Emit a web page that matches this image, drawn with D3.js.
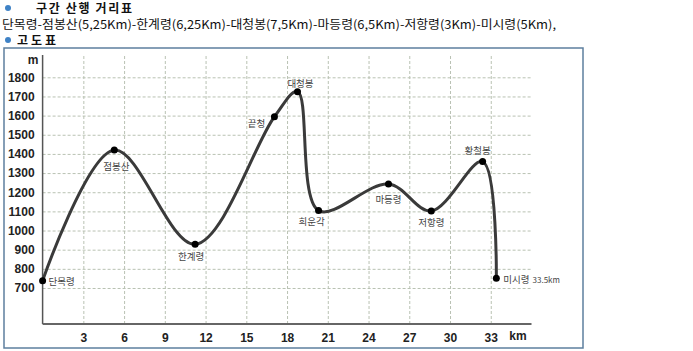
<!DOCTYPE html>
<html>
<head>
<meta charset="utf-8">
<script src="https://cdn.jsdelivr.net/npm/d3@7"></script>
<style>
  body { margin: 0; background: #fff; }
  svg { display: block; font-family: "Noto Sans CJK KR", "Noto Sans", sans-serif; }
  .grid line { stroke: #b9c2b3; stroke-dasharray: 3,2; }
  .grid path { display: none; }
  .axis text { font-family: Arial, "Liberation Sans", sans-serif; font-size: 12px; font-weight: bold; fill: #222; }
  .axis path, .axis line { display: none; }
  .place { font-size: 9.5px; fill: #444; }
</style>
</head>
<body>
<div id="chart"></div>
<script>
var places = ["단목령", "점봉산", "한계령", "끝청", "대청봉", "희운각", "마등령", "저항령", "황철봉", "미시령"];
var distKm = [0, 5.28, 11.23, 17.07, 18.77, 20.32, 25.47, 28.62, 32.4, 33.41];
var elevM = [738, 1420, 928, 1594, 1725, 1104, 1243, 1102, 1360, 751];
var xTicks = [3, 6, 9, 12, 15, 18, 21, 24, 27, 30, 33];
var yTicks = [700, 800, 900, 1000, 1100, 1200, 1300, 1400, 1500, 1600, 1700, 1800];
var routeText = "단목령-점봉산(5,25Km)-한계령(6,25Km)-대청봉(7,5Km)-마등령(6,5Km)-저항령(3Km)-미시령(5Km),";
var endNote = "33.5km";

// label placement relative to each dot
var labelPos = [
  {dx: 6, dy: 0, anchor: "start"},
  {dx: 2, dy: 16, anchor: "middle"},
  {dx: -4, dy: 12, anchor: "middle"},
  {dx: -18, dy: 6, anchor: "middle"},
  {dx: 3, dy: -9, anchor: "middle"},
  {dx: -7, dy: 10, anchor: "middle"},
  {dx: 0, dy: 15, anchor: "middle"},
  {dx: 0, dy: 11, anchor: "middle"},
  {dx: -5, dy: -12, anchor: "middle"},
  {dx: 7, dy: 1, anchor: "start"}
];

var svg = d3.select("#chart").append("svg")
    .attr("width", 693).attr("height", 351);

// header
function bullet(cx, cy) {
  svg.append("circle").attr("cx", cx).attr("cy", cy).attr("r", 3)
    .attr("fill", "#3f82c6");
}
bullet(8, 8);
svg.append("text").attr("x", 36).attr("y", 13)
  .attr("font-size", 12).attr("font-weight", "bold").attr("fill", "#111")
  .attr("textLength", 96).attr("lengthAdjust", "spacing")
  .text("구간 산행 거리표");
svg.append("text").attr("x", 2).attr("y", 29)
  .attr("font-size", 12).attr("fill", "#111")
  .attr("textLength", 554).attr("lengthAdjust", "spacingAndGlyphs")
  .text(routeText);
bullet(8, 40);
svg.append("text").attr("x", 17).attr("y", 45)
  .attr("font-size", 12).attr("font-weight", "bold").attr("fill", "#111")
  .attr("textLength", 39).attr("lengthAdjust", "spacing")
  .text("고도표");

// frame
svg.append("rect").attr("x", 4).attr("y", 48).attr("width", 579).attr("height", 300)
  .attr("fill", "none").attr("stroke", "#5d7f9e").attr("stroke-width", 1.5);

var x = d3.scaleLinear().domain([0, 36]).range([42.6, 531.5]);
var y = d3.scaleLinear().domain([512, 1800]).range([324, 77.3]);
var gridTop = 55;

svg.append("g").attr("class", "grid")
  .attr("transform", "translate(0," + y(512) + ")")
  .call(d3.axisBottom(x).tickValues(xTicks).tickSize(-(y(512) - gridTop)).tickFormat(""));
svg.append("g").attr("class", "grid")
  .attr("transform", "translate(" + x(0) + ",0)")
  .call(d3.axisLeft(y).tickValues(yTicks).tickSize(-(x(36) - x(0))).tickFormat(""));

// axis lines
svg.append("line").attr("x1", x(0)).attr("x2", x(0)).attr("y1", gridTop).attr("y2", y(512))
  .attr("stroke", "#555").attr("stroke-width", 1.5);
svg.append("line").attr("x1", x(0)).attr("x2", x(36)).attr("y1", y(512)).attr("y2", y(512))
  .attr("stroke", "#666").attr("stroke-width", 2);

svg.append("g").attr("class", "axis")
  .attr("transform", "translate(0," + (y(512) + 6) + ")")
  .call(d3.axisBottom(x).tickValues(xTicks).tickSize(0).tickFormat(d3.format("d")));
svg.append("g").attr("class", "axis")
  .attr("transform", "translate(" + (x(0) - 5) + ",0)")
  .call(d3.axisLeft(y).tickValues(yTicks).tickSize(0).tickFormat(d3.format("d")));

svg.append("text").attr("x", 518).attr("y", 340).attr("text-anchor", "middle")
  .attr("font-family", "Arial, sans-serif").attr("font-size", 12).attr("font-weight", "bold").attr("fill", "#222")
  .text("km");
svg.append("text").attr("x", 33).attr("y", 64).attr("text-anchor", "middle")
  .attr("font-family", "Arial, sans-serif").attr("font-size", 12).attr("font-weight", "bold").attr("fill", "#222")
  .text("m");

var pts = places.map(function(p, i) { return {name: p, km: distKm[i], m: elevM[i]}; });

var line = d3.line()
  .x(function(d) { return x(d.km); })
  .y(function(d) { return y(d.m); })
  .curve(d3.curveCatmullRom.alpha(0.5));

svg.append("path").datum(pts)
  .attr("d", line)
  .attr("fill", "none").attr("stroke", "#3a3a3a").attr("stroke-width", 3)
  .attr("stroke-linejoin", "round");

svg.selectAll(".dot").data(pts).enter().append("circle")
  .attr("class", "dot")
  .attr("cx", function(d) { return x(d.km); })
  .attr("cy", function(d) { return y(d.m); })
  .attr("r", 3.5).attr("fill", "#000");

var labels = svg.selectAll(".place").data(pts).enter().append("text")
  .attr("class", "place")
  .attr("x", function(d, i) { return x(d.km) + labelPos[i].dx; })
  .attr("y", function(d, i) { return y(d.m) + labelPos[i].dy; })
  .attr("dominant-baseline", "central")
  .attr("text-anchor", function(d, i) { return labelPos[i].anchor; })
  .text(function(d) { return d.name; });

labels.filter(function(d, i) { return i === places.length - 1; })
  .append("tspan").attr("font-size", 8).attr("dx", 3)
  .text(endNote);
</script>
</body>
</html>
